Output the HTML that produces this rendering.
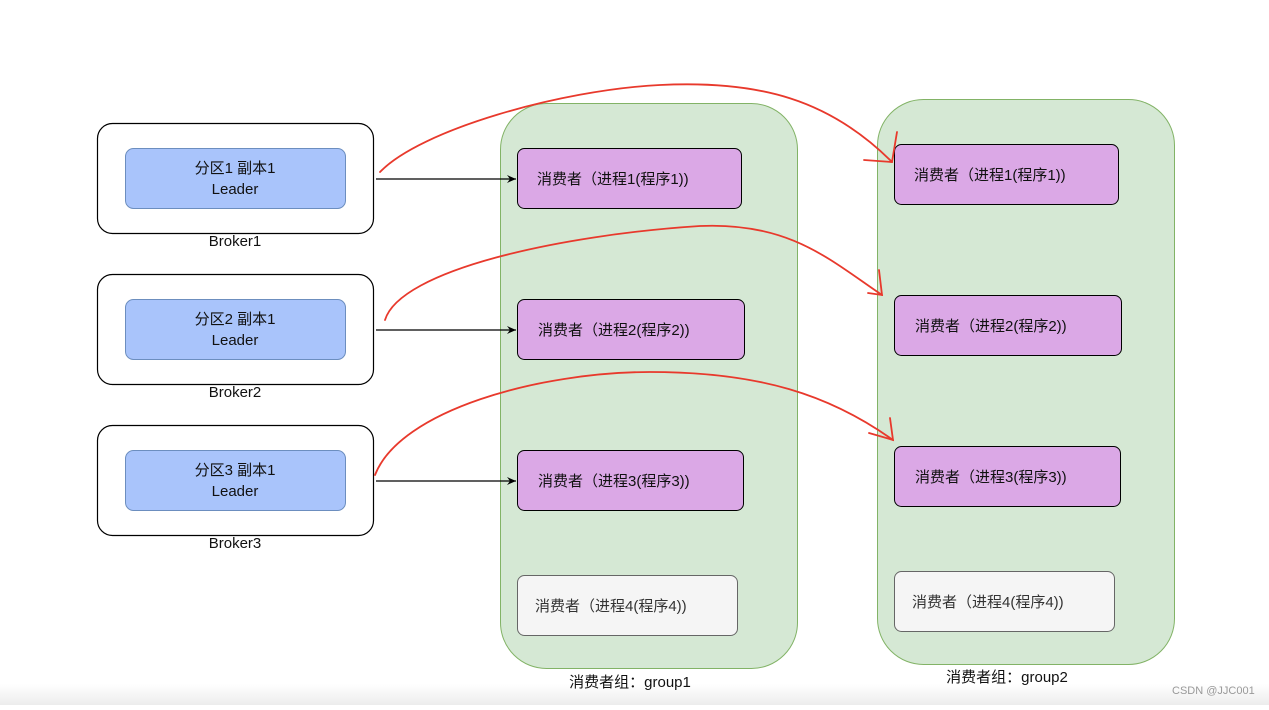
<!DOCTYPE html>
<html><head><meta charset="utf-8"><style>
body{margin:0;background:#fff}
svg text{font-family:"Liberation Sans","Noto Sans CJK SC",sans-serif;font-size:15px;fill:#111}
</style></head><body>
<svg width="1269" height="705" viewBox="0 0 1269 705" xmlns="http://www.w3.org/2000/svg">
<defs>
<linearGradient id="bg" x1="0" y1="0" x2="0" y2="1"><stop offset="0" stop-color="#fff"/><stop offset="1" stop-color="#ececec"/></linearGradient>
<marker id="ar" markerWidth="10" markerHeight="10" refX="9" refY="5" orient="auto" markerUnits="userSpaceOnUse"><path d="M0,1 L9,5 L0,9 L3,5 Z" fill="#000"/></marker>
</defs>
<rect x="0" y="684" width="1269" height="21" fill="url(#bg)"/>
<!-- groups -->
<rect x="500.5" y="103.5" width="297" height="565" rx="46" fill="#d5e8d4" stroke="#82b366"/>
<rect x="877.5" y="99.5" width="297" height="565" rx="46" fill="#d5e8d4" stroke="#82b366"/>
<!-- brokers -->
<g stroke="#000" stroke-width="1.2" fill="#fff">
<rect x="97.5" y="123.5" width="276" height="110" rx="15"/>
<rect x="97.5" y="274.5" width="276" height="110" rx="15"/>
<rect x="97.5" y="425.5" width="276" height="110" rx="15"/>
</g>
<g fill="#a9c4fb" stroke="#6c8ebf">
<rect x="125.5" y="148.5" width="220" height="60" rx="8"/>
<rect x="125.5" y="299.5" width="220" height="60" rx="8"/>
<rect x="125.5" y="450.5" width="220" height="60" rx="8"/>
</g>
<g text-anchor="middle">
<text x="235" y="173">分区1 副本1</text><text x="235" y="194">Leader</text>
<text x="235" y="324">分区2 副本1</text><text x="235" y="345">Leader</text>
<text x="235" y="475">分区3 副本1</text><text x="235" y="496">Leader</text>
<text x="235" y="246">Broker1</text>
<text x="235" y="397">Broker2</text>
<text x="235" y="548">Broker3</text>
<text x="630" y="687">消费者组：group1</text>
<text x="1007" y="682">消费者组：group2</text>
</g>
<!-- consumers -->
<g fill="#dba8e6" stroke="#000">
<rect x="517.5" y="148.5" width="224" height="60" rx="7"/>
<rect x="517.5" y="299.5" width="227" height="60" rx="7"/>
<rect x="517.5" y="450.5" width="226" height="60" rx="7"/>
<rect x="894.5" y="144.5" width="224" height="60" rx="7"/>
<rect x="894.5" y="295.5" width="227" height="60" rx="7"/>
<rect x="894.5" y="446.5" width="226" height="60" rx="7"/>
</g>
<g fill="#f5f5f5" stroke="#666">
<rect x="517.5" y="575.5" width="220" height="60" rx="7"/>
<rect x="894.5" y="571.5" width="220" height="60" rx="7"/>
</g>
<g>
<text x="537" y="184">消费者（进程1(程序1))</text>
<text x="538" y="335">消费者（进程2(程序2))</text>
<text x="538" y="486">消费者（进程3(程序3))</text>
<text x="914" y="180">消费者（进程1(程序1))</text>
<text x="915" y="331">消费者（进程2(程序2))</text>
<text x="915" y="482">消费者（进程3(程序3))</text>
<text x="535" y="611" style="fill:#333">消费者（进程4(程序4))</text>
<text x="912" y="607" style="fill:#333">消费者（进程4(程序4))</text>
</g>
<!-- black arrows -->
<g stroke="#000" stroke-width="1.2" marker-end="url(#ar)">
<line x1="376" y1="179" x2="516" y2="179"/>
<line x1="376" y1="330" x2="516" y2="330"/>
<line x1="376" y1="481" x2="516" y2="481"/>
</g>
<!-- red curves -->
<g stroke="#e8392c" stroke-width="1.8" fill="none" stroke-linecap="round">
<path d="M380,172 C420,130 560,90 660,85 C760,80 830,100 892,162"/>
<path d="M897,132 L892,162 L864,160"/>
<path d="M385,320 C400,270 560,235 700,226 C790,222 830,260 882,295"/>
<path d="M879,270 L882,295 L868,293"/>
<path d="M375,475 C400,410 540,372 650,372 C760,372 830,395 893,440"/>
<path d="M890,418 L893,440 L869,433"/>
</g>
<text x="1172" y="694" style="font-size:11px;fill:#999">CSDN @JJC001</text>
</svg>
</body></html>
